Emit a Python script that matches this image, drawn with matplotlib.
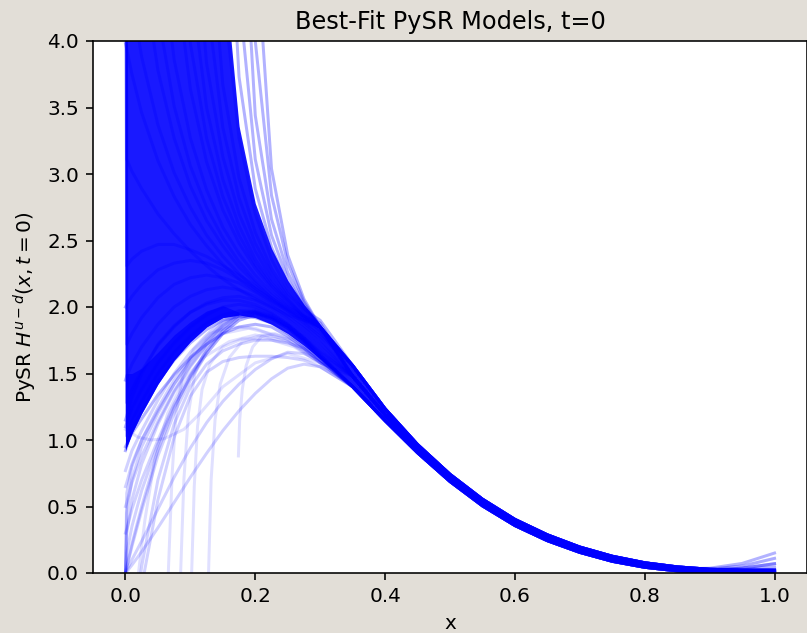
import numpy as np
import matplotlib
matplotlib.use("Agg")
import matplotlib.pyplot as plt

nan = np.nan

# sample positions: steep part near x=0, then the converged tail
head_x = [0.0, 0.002, 0.01, 0.025, 0.05, 0.075, 0.1, 0.125, 0.15, 0.175, 0.2, 0.225, 0.25, 0.275, 0.3]
tail_x = [0.35, 0.4, 0.45, 0.5, 0.55, 0.6, 0.65, 0.7, 0.75, 0.8, 0.85, 0.9, 0.95, 1.0]

# converged tail, upper / middle / lower edge of the bundle
tail_hi = [1.56, 1.235, 0.966, 0.742, 0.555, 0.403, 0.287, 0.195, 0.126, 0.077, 0.046, 0.028, 0.021, 0.021]
tail_mid = [1.48, 1.19, 0.935, 0.715, 0.53, 0.38, 0.265, 0.175, 0.107, 0.060, 0.031, 0.016, 0.011, 0.011]
tail_lo = [1.40, 1.145, 0.904, 0.688, 0.505, 0.357, 0.243, 0.155, 0.088, 0.043, 0.016, 0.004, 0.001, 0.001]
# a few models turn up again near x=1
tail_rise_a = [1.48, 1.19, 0.935, 0.715, 0.53, 0.38, 0.265, 0.175, 0.107, 0.060, 0.031, 0.036, 0.072, 0.15]
tail_rise_b = [1.48, 1.19, 0.935, 0.715, 0.53, 0.38, 0.265, 0.175, 0.107, 0.060, 0.030, 0.030, 0.052, 0.11]
tail_rise_c = [1.48, 1.19, 0.935, 0.715, 0.53, 0.38, 0.265, 0.175, 0.107, 0.060, 0.030, 0.024, 0.036, 0.07]
tail_rise_d = [1.48, 1.19, 0.935, 0.715, 0.53, 0.38, 0.265, 0.175, 0.107, 0.060, 0.030, 0.020, 0.027, 0.045]

tails = {"hi": tail_hi, "mid": tail_mid, "lo": tail_lo,
         "ra": tail_rise_a, "rb": tail_rise_b, "rc": tail_rise_c, "rd": tail_rise_d}

# envelopes of the dense part of the bundle (on head_x)
fan_top = [4.5, 4.5, 4.5, 4.5, 4.5, 4.5, 4.5, 4.5, 4.66, 3.36, 2.78, 2.44, 2.20, 2.02, 1.87]
zone_bottom = [0.92, 0.95, 1.05, 1.20, 1.42, 1.60, 1.74, 1.85, 1.92, 1.94, 1.92, 1.87, 1.80, 1.71, 1.61]
band_top = [1.50, 1.50, 1.50, 1.54, 1.66, 1.79, 1.89, 1.97, 2.01, 1.96]

# models that blow up towards x=0
fan_curves = [
    [9.0, 3.11, 3.02, 2.89, 2.70, 2.55, 2.42, 2.31, 2.21, 2.13, 2.06, 2.00, 1.94, 1.90, 1.85],
    [3.98, 3.94, 3.75, 3.46, 3.10, 2.83, 2.62, 2.46, 2.32, 2.21, 2.12, 2.04, 1.97, 1.90, 1.83],
    [4.68, 4.60, 4.32, 3.88, 3.37, 3.01, 2.75, 2.54, 2.38, 2.25, 2.14, 2.05, 1.98, 1.91, 1.85],
    [6.1, 5.9, 5.37, 4.6, 3.78, 3.27, 2.91, 2.65, 2.46, 2.30, 2.18, 2.07, 1.99, 1.91, 1.85],
    [8.2, 7.88, 6.78, 5.45, 4.21, 3.51, 3.06, 2.75, 2.52, 2.34, 2.20, 2.09, 2.00, 1.93, 1.88],
    [14.0, 13.0, 10.0, 7.0, 4.89, 3.86, 3.27, 2.88, 2.60, 2.40, 2.24, 2.11, 2.01, 1.92, 1.85],
    [nan, nan, nan, 13.5, 6.58, 4.59, 3.64, 3.09, 2.73, 2.48, 2.29, 2.14, 2.02, 1.93, 1.85],
    [nan, nan, nan, nan, 8.9, 5.33, 3.98, 3.27, 2.83, 2.54, 2.32, 2.16, 2.04, 1.93, 1.85],
    [nan, nan, nan, nan, 16.0, 6.63, 4.46, 3.50, 2.96, 2.61, 2.36, 2.18, 2.05, 1.93, 1.82],
    [nan, nan, nan, nan, nan, 9.5, 5.25, 3.83, 3.13, 2.70, 2.42, 2.21, 2.06, 1.94, 1.85],
    [nan, nan, nan, nan, nan, nan, 6.71, 4.33, 3.35, 2.82, 2.48, 2.25, 2.08, 1.95, 1.85],
    [nan, nan, nan, nan, nan, nan, 10.4, 5.16, 3.67, 2.97, 2.56, 2.29, 2.10, 1.98, 1.90],
    [nan, nan, nan, nan, nan, nan, nan, 7.8, 4.4, 3.27, 2.70, 2.36, 2.13, 1.97, 1.85],
    [nan, nan, nan, nan, nan, nan, nan, nan, 5.91, 3.73, 2.89, 2.45, 2.17, 1.99, 1.85],
    [nan, nan, nan, nan, nan, nan, nan, nan, 9.2, 4.36, 3.11, 2.54, 2.21, 2.00, 1.85],
    [nan, nan, nan, nan, nan, nan, nan, nan, nan, 5.58, 3.44, 2.66, 2.26, 2.02, 1.85],
    [nan, nan, nan, nan, nan, nan, nan, nan, nan, 9.2, 4.0, 2.84, 2.33, 2.04, 1.85],
    [nan, nan, nan, nan, nan, nan, nan, nan, nan, nan, 4.84, 3.04, 2.39, 2.06, 1.85],
]
fan_tails = ["rd", "hi", "mid", "hi", "mid", "hi", "mid", "hi", "mid",
             "hi", "mid", "hi", "hi", "hi", "ra", "hi", "hi", "hi"]

# models starting near 1-2.3 at x=0 and peaking before converging
arc_curves = [
    [0.92, 0.95, 1.08, 1.22, 1.44, 1.60, 1.73, 1.83, 1.90, 1.93, 1.92, 1.88, 1.80, 1.71, 1.60],
    [9.0, 1.03, 1.15, 1.29, 1.50, 1.66, 1.78, 1.88, 1.94, 1.97, 1.96, 1.91, 1.84, 1.74, 1.62],
    [1.10, 1.13, 1.24, 1.38, 1.58, 1.73, 1.85, 1.94, 2.00, 2.02, 2.00, 1.95, 1.87, 1.77, 1.66],
    [9.0, 1.28, 1.38, 1.52, 1.71, 1.85, 1.96, 2.03, 2.07, 2.08, 2.05, 1.99, 1.91, 1.81, 1.70],
    [1.45, 1.48, 1.57, 1.70, 1.87, 2.00, 2.08, 2.13, 2.15, 2.13, 2.08, 2.01, 1.93, 1.84, 1.73],
    [9.0, 1.72, 1.80, 1.92, 2.07, 2.17, 2.22, 2.24, 2.22, 2.18, 2.11, 2.03, 1.95, 1.86, 1.76],
    [2.00, 2.02, 2.08, 2.17, 2.28, 2.33, 2.35, 2.33, 2.28, 2.21, 2.14, 2.06, 1.97, 1.88, 1.78],
    [9.0, 2.31, 2.36, 2.42, 2.47, 2.47, 2.43, 2.38, 2.31, 2.24, 2.16, 2.07, 1.98, 1.89, 1.80],
    [0.95, 0.97, 1.05, 1.16, 1.34, 1.49, 1.62, 1.72, 1.80, 1.85, 1.87, 1.85, 1.78, 1.69, 1.58],
    [1.15, 1.18, 1.32, 1.50, 1.72, 1.86, 1.96, 2.02, 2.05, 2.05, 2.02, 1.96, 1.88, 1.78, 1.67],
]
arc_tails = ["lo", "lo", "rc", "mid", "mid", "mid", "hi", "hi", "rc", "mid"]

# models rising from low values at small x
rise_curves = [
    [0.0, 0.04, 0.20, 0.47, 0.88, 1.20, 1.45, 1.65, 1.80, 1.90, 1.94, 1.91, 1.84, 1.74, 1.62],
    [0.0, 0.05, 0.22, 0.50, 0.92, 1.24, 1.48, 1.67, 1.82, 1.92, 1.95, 1.92, 1.85, 1.75, 1.63],
    [0.0, 0.30, 0.55, 0.82, 1.12, 1.36, 1.55, 1.71, 1.84, 1.93, 1.95, 1.92, 1.85, 1.75, 1.63],
    [0.0, 0.15, 0.35, 0.62, 0.97, 1.25, 1.47, 1.65, 1.80, 1.90, 1.94, 1.91, 1.84, 1.74, 1.62],
    [0.0, 0.45, 0.70, 0.95, 1.20, 1.42, 1.60, 1.75, 1.87, 1.95, 1.97, 1.93, 1.86, 1.76, 1.64],
    [0.30, 0.33, 0.48, 0.70, 1.00, 1.27, 1.49, 1.67, 1.82, 1.92, 1.95, 1.92, 1.85, 1.75, 1.63],
    [0.50, 0.53, 0.68, 0.88, 1.14, 1.37, 1.56, 1.72, 1.85, 1.94, 1.96, 1.93, 1.86, 1.76, 1.63],
    [0.65, 0.68, 0.82, 1.00, 1.24, 1.45, 1.62, 1.76, 1.88, 1.95, 1.97, 1.93, 1.86, 1.76, 1.64],
    [0.77, 0.80, 0.92, 1.07, 1.30, 1.50, 1.66, 1.79, 1.90, 1.97, 1.98, 1.94, 1.87, 1.77, 1.64],
    [0.0, 0.02, 0.10, 0.24, 0.48, 0.72, 0.94, 1.13, 1.29, 1.42, 1.53, 1.61, 1.66, 1.65, 1.59],
    [-1.0, -1.0, -0.6, -0.1, 0.55, 1.02, 1.33, 1.51, 1.59, 1.62, 1.63, 1.63, 1.62, 1.60, 1.55],
    [-1.0, -1.0, -0.5, 0.05, 0.70, 1.12, 1.40, 1.57, 1.67, 1.72, 1.75, 1.75, 1.73, 1.69, 1.62],
    [0.0, 0.60, 0.80, 1.00, 1.22, 1.42, 1.59, 1.74, 1.86, 1.94, 1.96, 1.93, 1.86, 1.76, 1.63],
    [0.0, 0.01, 0.06, 0.16, 0.34, 0.53, 0.72, 0.90, 1.07, 1.22, 1.35, 1.46, 1.54, 1.57, 1.55],
]
rise_tails = ["lo", "lo", "rb", "lo", "lo", "lo", "rb", "lo", "lo", "lo", "lo", "lo", "lo", "lo"]

# steep models that only switch on at some x > 0
steep_x = [
    [0.066, 0.072, 0.078, 0.088, 0.105, 0.13, 0.16, 0.2, 0.25, 0.3],
    [0.085, 0.09, 0.097, 0.107, 0.125, 0.15, 0.19, 0.24, 0.27, 0.3],
    [0.102, 0.106, 0.111, 0.118, 0.13, 0.15, 0.18, 0.22, 0.26, 0.3],
    [0.128, 0.132, 0.138, 0.146, 0.16, 0.18, 0.21, 0.25, 0.3],
    [0.174, 0.176, 0.18, 0.186, 0.196, 0.21, 0.23, 0.26, 0.3],
    [0.0, 0.02, 0.04, 0.06, 0.09, 0.115, 0.15, 0.2, 0.25, 0.3],
    [0.02, 0.03, 0.045, 0.065, 0.09, 0.12, 0.16, 0.2, 0.25, 0.3],
]
steep_y = [
    [0.0, 0.75, 1.2, 1.48, 1.68, 1.80, 1.85, 1.84, 1.74, 1.58],
    [0.0, 0.7, 1.2, 1.5, 1.7, 1.8, 1.84, 1.78, 1.70, 1.60],
    [0.0, 0.65, 1.1, 1.38, 1.57, 1.70, 1.76, 1.76, 1.70, 1.58],
    [0.0, 0.7, 1.15, 1.42, 1.62, 1.74, 1.79, 1.76, 1.60],
    [0.88, 1.15, 1.38, 1.56, 1.70, 1.78, 1.80, 1.75, 1.60],
    [1.08, 1.02, 1.0, 1.01, 1.08, 1.2, 1.4, 1.58, 1.65, 1.58],
    [0.0, 0.4, 0.85, 1.2, 1.45, 1.62, 1.74, 1.79, 1.74, 1.60],
]

fig = plt.figure(figsize=(807 / 144, 633 / 144), dpi=144, facecolor="#e2ded7")
ax = fig.add_axes([93 / 807, 60 / 633, 714 / 807, 532 / 633])

x_all = head_x + tail_x
# dense core of the bundle and the dark band of arcs near x=0
ax.fill_between(x_all, zone_bottom + tail_lo, fan_top + tail_hi, color="blue", alpha=0.9, lw=0)
ax.fill_between(head_x[:len(band_top)], zone_bottom[:len(band_top)], band_top,
                color="blue", alpha=0.7, lw=0)

for ys, t in zip(fan_curves, fan_tails):
    ax.plot(x_all, ys + tails[t], color="blue", alpha=0.3)
for ys, t in zip(arc_curves, arc_tails):
    ax.plot(x_all, ys + tails[t], color="blue", alpha=0.3)
for ys, t in zip(rise_curves, rise_tails):
    ax.plot(x_all, ys + tails[t], color="blue", alpha=0.18)
for xs, ys in zip(steep_x, steep_y):
    ax.plot(xs + tail_x, ys + tail_lo, color="blue", alpha=0.12)

ax.set_xlim(-0.05, 1.05)
ax.set_ylim(0, 4)
ax.set_title("Best-Fit PySR Models, t=0")
ax.set_xlabel("x")
ax.set_ylabel(r"PySR $H^{u-d}(x, t=0)$")

fig.savefig("out.png", dpi=144, facecolor=fig.get_facecolor())
